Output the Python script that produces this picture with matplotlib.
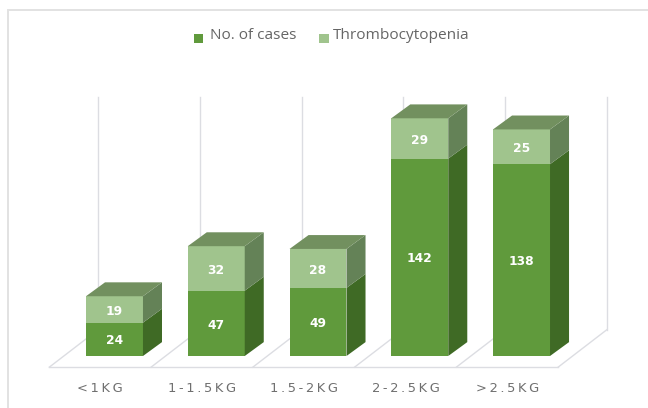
import matplotlib
matplotlib.use("Agg")
import matplotlib.pyplot as plt
from matplotlib.patches import Polygon, Rectangle

categories = ['<1KG', '1-1.5KG', '1.5-2KG', '2-2.5KG', '>2.5KG']
cases = [24, 47, 49, 142, 138]
thrombo = [19, 32, 28, 29, 25]

# colours of the faces
case_front, case_side = '#609a3c', '#3f6a25'
thr_front, thr_side, thr_top = '#a0c48d', '#648257', '#72905f'
grid_col = '#dcdde2'

# 3d look, sizes in data units
bar_w = 0.56
dep_x = 0.187
dep_y = 10.0

fig = plt.figure(figsize=(6.48, 4.08), dpi=100)
ax = fig.add_axes([0, 0, 1, 1])
ax.set_xlim(-1.125, 5.243)
ax.set_ylim(-37.4, 256.1)
ax.axis('off')

# outer frame of the chart, runs off the right and bottom of the picture
ax.add_patch(Rectangle((0.012, -0.05), 1.2, 1.025, transform=ax.transAxes,
                       fill=False, ec='#e2e2e2', lw=1.4, clip_on=True))


def box(x, y0, y1, front, side, top=None):
    l, r = x - bar_w / 2, x + bar_w / 2
    ax.add_patch(Polygon([(l, y0), (r, y0), (r, y1), (l, y1)], fc=front, ec='none', zorder=3))
    ax.add_patch(Polygon([(r, y0), (r + dep_x, y0 + dep_y), (r + dep_x, y1 + dep_y), (r, y1)],
                         fc=side, ec='none', zorder=3))
    if top:
        ax.add_patch(Polygon([(l, y1), (r, y1), (r + dep_x, y1 + dep_y), (l + dep_x, y1 + dep_y)],
                             fc=top, ec='none', zorder=3))


# floor and back wall
floor_y = -8
wall_y = 19
edges = [i - 0.64 for i in range(6)]
for e in edges:
    ax.plot([e, e + 0.48], [floor_y, wall_y], color=grid_col, lw=1, zorder=1)
    ax.plot([e + 0.48, e + 0.48], [wall_y, 186], color=grid_col, lw=1, zorder=1)
ax.plot([edges[0], edges[-1]], [floor_y, floor_y], color=grid_col, lw=1, zorder=1)

for i, cat in enumerate(categories):
    box(i, 0, cases[i], case_front, case_side)
    box(i, cases[i], cases[i] + thrombo[i], thr_front, thr_side, thr_top)
    ax.text(i, cases[i] / 2 - 1.2, str(cases[i]), color='white', fontsize=8.8, fontweight='bold',
            ha='center', va='center', zorder=4)
    ax.text(i, cases[i] + thrombo[i] / 2 - 1.2, str(thrombo[i]), color='white', fontsize=8.8,
            fontweight='bold', ha='center', va='center', zorder=4)
    # tick labels are letter spaced and sit under the floor, left of the bar centre
    ax.text(i - 0.14, -23.5, '\u2009'.join(cat), color='#6f6f6f', fontsize=9.4,
            ha='center', va='center', family='DejaVu Sans')

# legend
ax.add_patch(Rectangle((0.299, 0.895), 0.0145, 0.0215, transform=ax.transAxes, fc=case_front, ec='none'))
ax.add_patch(Rectangle((0.493, 0.895), 0.0145, 0.0215, transform=ax.transAxes, fc=thr_front, ec='none'))
ax.text(0.324, 0.913, 'No. of cases', transform=ax.transAxes, color='#666666', fontsize=11.1,
        ha='left', va='center', family='Open Sans')
ax.text(0.513, 0.913, 'Thrombocytopenia', transform=ax.transAxes, color='#666666', fontsize=11.1,
        ha='left', va='center', family='Open Sans')

plt.savefig('out.png', dpi=100)
